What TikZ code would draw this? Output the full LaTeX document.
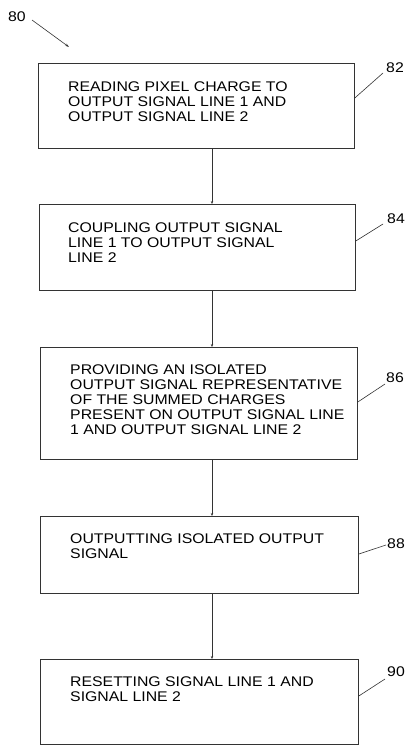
\documentclass[tikz,border=0pt]{standalone}
\usepackage{fontspec}
\setmainfont{Liberation Sans}[FakeStretch=1.13]
\usetikzlibrary{calc,arrows.meta}
\begin{document}
\begin{tikzpicture}[x=1pt,y=-1pt,
  box/.style={draw=black!80, line width=0.8pt, inner sep=0pt, anchor=north west},
  txt/.style={align=left, inner sep=0pt, anchor=north west, text=black,
    font=\fontsize{14}{15}\selectfont},
  lab/.style={inner sep=0pt, text=black, font=\fontsize{14}{15}\selectfont},
  lead/.style={draw=black!80, line width=0.6pt},
  flow/.style={draw=black!80, line width=0.7pt, -{Stealth[length=3pt,width=2.4pt]}}]
\useasboundingbox (0,0) rectangle (406,745);
\fill[white] (0,0) rectangle (406,745);
\coordinate (axis) at (212,0);

\node[box, minimum width=316pt, minimum height=85pt] (b82) at (38,63) {};
\node[box, minimum width=316pt, minimum height=86pt] (b84) at (39,204) {};
\node[box, minimum width=317pt, minimum height=112pt] (b86) at (40,347) {};
\node[box, minimum width=318pt, minimum height=77pt] (b88) at (40,516) {};
\node[box, minimum width=318pt, minimum height=85pt] (b90) at (40,659) {};

\node[txt] (t82) at ($(b82.north west)+(30,19)$) {READING PIXEL CHARGE TO\\OUTPUT SIGNAL LINE 1 AND\\OUTPUT SIGNAL LINE 2};
\node[txt] (t84) at ($(b84.north west)+(29,19)$) {COUPLING OUTPUT SIGNAL\\LINE 1 TO OUTPUT SIGNAL\\LINE 2};
\node[txt] (t86) at ($(b86.north west)+(30,18)$) {PROVIDING AN ISOLATED\\OUTPUT SIGNAL REPRESENTATIVE\\OF THE SUMMED CHARGES\\PRESENT ON OUTPUT SIGNAL LINE\\1 AND OUTPUT SIGNAL LINE 2};
\node[txt] (t88) at ($(b88.north west)+(30,18)$) {OUTPUTTING ISOLATED OUTPUT\\SIGNAL};
\node[txt] (t90) at ($(b90.north west)+(30,18)$) {RESETTING SIGNAL LINE 1 AND\\SIGNAL LINE 2};

\draw[flow] (b82.south -| axis) -- (b84.north -| axis);
\draw[flow] (b84.south -| axis) -- (b86.north -| axis);
\draw[flow] (b86.south -| axis) -- (b88.north -| axis);
\draw[flow] (b88.south -| axis) -- (b90.north -| axis);

\node[lab] (l80) at (17,17) {80};
\node[lab] (l82) at (395,68) {82};
\node[lab] (l84) at (396,219) {84};
\node[lab] (l86) at (395,378) {86};
\node[lab] (l88) at (396,544) {88};
\node[lab] (l90) at (396,672) {90};

\coordinate (p80) at (69,47);
\draw[lead, -{Stealth[length=4pt,width=2.5pt]}] ([shift={(6,3)}]l80.east) -- (p80);
\draw[lead] ($(b82.north east)+(0,35)$) -- ([shift={(-3,5)}]l82.west);
\draw[lead] ($(b84.north east)+(0,37)$) -- ([shift={(-4,5)}]l84.west);
\draw[lead] ($(b86.north east)+(0,55)$) -- ([shift={(-1,6)}]l86.west);
\draw[lead] ($(b88.north east)+(0,38)$) -- ([shift={(-1,1)}]l88.west);
\draw[lead] ($(b90.north east)+(0,37)$) -- ([shift={(-2,7)}]l90.west);
\end{tikzpicture}
\end{document}
